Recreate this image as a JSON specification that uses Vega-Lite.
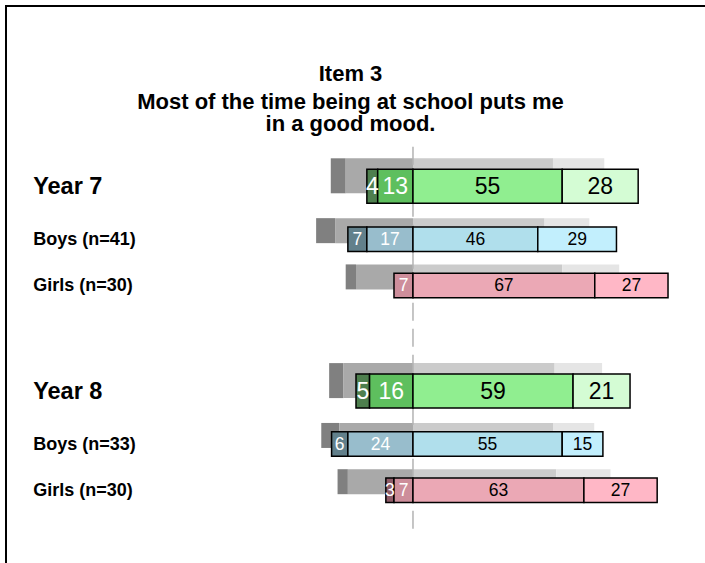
{
  "$schema": "https://vega.github.io/schema/vega-lite/v6.json",
  "width": 719,
  "height": 572,
  "autosize": {"type": "none"},
  "padding": {"left": 6, "top": 6, "right": 0, "bottom": 0},
  "background": "white",
  "config": {"view": {"stroke": "black", "strokeWidth": 2}, "font": "Liberation Sans"},
  "title": {
    "text": "Item 3",
    "subtitle": ["Most of the time being at school puts me", "in a good mood."],
    "anchor": "middle", "frame": "group", "offset": -130, "dx": -15,
    "font": "Liberation Sans", "fontSize": 22, "fontWeight": "bold", "color": "black",
    "subtitleFont": "Liberation Sans", "subtitleFontSize": 22, "subtitleFontWeight": "bold", "subtitleColor": "black",
    "subtitlePadding": 6, "subtitleLineHeight": 22
  },
  "datasets": {
    "main": [
      {"row": "Y7", "grp": "Y", "cat": "SD", "v": -4, "pct": 4},
      {"row": "Y7", "grp": "Y", "cat": "D", "v": -13, "pct": 13},
      {"row": "Y7", "grp": "Y", "cat": "A", "v": 55, "pct": 55},
      {"row": "Y7", "grp": "Y", "cat": "SA", "v": 28, "pct": 28},
      {"row": "B7", "grp": "B", "cat": "SD", "v": -7, "pct": 7},
      {"row": "B7", "grp": "B", "cat": "D", "v": -17, "pct": 17},
      {"row": "B7", "grp": "B", "cat": "A", "v": 46, "pct": 46},
      {"row": "B7", "grp": "B", "cat": "SA", "v": 29, "pct": 29},
      {"row": "G7", "grp": "G", "cat": "D", "v": -7, "pct": 7},
      {"row": "G7", "grp": "G", "cat": "A", "v": 67, "pct": 67},
      {"row": "G7", "grp": "G", "cat": "SA", "v": 27, "pct": 27},
      {"row": "Y8", "grp": "Y", "cat": "SD", "v": -5, "pct": 5},
      {"row": "Y8", "grp": "Y", "cat": "D", "v": -16, "pct": 16},
      {"row": "Y8", "grp": "Y", "cat": "A", "v": 59, "pct": 59},
      {"row": "Y8", "grp": "Y", "cat": "SA", "v": 21, "pct": 21},
      {"row": "B8", "grp": "B", "cat": "SD", "v": -6, "pct": 6},
      {"row": "B8", "grp": "B", "cat": "D", "v": -24, "pct": 24},
      {"row": "B8", "grp": "B", "cat": "A", "v": 55, "pct": 55},
      {"row": "B8", "grp": "B", "cat": "SA", "v": 15, "pct": 15},
      {"row": "G8", "grp": "G", "cat": "SD", "v": -3, "pct": 3},
      {"row": "G8", "grp": "G", "cat": "D", "v": -7, "pct": 7},
      {"row": "G8", "grp": "G", "cat": "A", "v": 63, "pct": 63},
      {"row": "G8", "grp": "G", "cat": "SA", "v": 27, "pct": 27}
    ],
    "shadow": [
      {"row": "Y7", "grp": "Y", "cat": "SD", "v": -5.5},
      {"row": "Y7", "grp": "Y", "cat": "D", "v": -24.8},
      {"row": "Y7", "grp": "Y", "cat": "A", "v": 51.6},
      {"row": "Y7", "grp": "Y", "cat": "SA", "v": 18.9},
      {"row": "B7", "grp": "B", "cat": "SD", "v": -7},
      {"row": "B7", "grp": "B", "cat": "D", "v": -28.7},
      {"row": "B7", "grp": "B", "cat": "A", "v": 48.5},
      {"row": "B7", "grp": "B", "cat": "SA", "v": 16.5},
      {"row": "G7", "grp": "G", "cat": "SD", "v": -3.8},
      {"row": "G7", "grp": "G", "cat": "D", "v": -21},
      {"row": "G7", "grp": "G", "cat": "A", "v": 55},
      {"row": "G7", "grp": "G", "cat": "SA", "v": 21},
      {"row": "Y8", "grp": "Y", "cat": "SD", "v": -5.3},
      {"row": "Y8", "grp": "Y", "cat": "D", "v": -25.6},
      {"row": "Y8", "grp": "Y", "cat": "A", "v": 52.2},
      {"row": "Y8", "grp": "Y", "cat": "SA", "v": 17.5},
      {"row": "B8", "grp": "B", "cat": "SD", "v": -6.7},
      {"row": "B8", "grp": "B", "cat": "D", "v": -27.1},
      {"row": "B8", "grp": "B", "cat": "A", "v": 51.8},
      {"row": "B8", "grp": "B", "cat": "SA", "v": 15},
      {"row": "G8", "grp": "G", "cat": "SD", "v": -3.8},
      {"row": "G8", "grp": "G", "cat": "D", "v": -24},
      {"row": "G8", "grp": "G", "cat": "A", "v": 52.8},
      {"row": "G8", "grp": "G", "cat": "SA", "v": 20}
    ],
    "labels": [
      {"row": "Y7", "grp": "Y", "label": "Year 7"},
      {"row": "B7", "grp": "B", "label": "Boys (n=41)"},
      {"row": "G7", "grp": "G", "label": "Girls (n=30)"},
      {"row": "Y8", "grp": "Y", "label": "Year 8"},
      {"row": "B8", "grp": "B", "label": "Boys (n=33)"},
      {"row": "G8", "grp": "G", "label": "Girls (n=30)"}
    ]
  },
  "layer": [
    {
      "data": {"name": "shadow"},
      "transform": [
        {"filter": "datum.grp == 'Y'"},
        {"stack": "v", "groupby": ["row"], "sort": [{"field": "cat", "order": "ascending"}], "as": ["x0", "x1"], "offset": "zero"},
        {"calculate": "'S' + datum.cat", "as": "key"}
      ],
      "mark": {"type": "bar", "height": 35, "yOffset": -10.5},
      "encoding": {
        "y": {"field": "row", "type": "nominal", "axis": null, "scale": {"type": "band", "paddingInner": 0, "paddingOuter": 0.79, "domain": ["p1","p2","p3","p4","p5","p6","p7","p8","p9","p10","p11","p12","p13","p14","p15","p16","p17","p18","p19","p20","p21","p22","p23","p24","p25","p26","Y7","y1","y2","y3","y4","y5","y6","y7","B7","b1","b2","b3","b4","b5","b6","G7","g1","g2","g3","g4","g5","g6","g7","g8","g9","g10","g11","g12","g13","g14","g15","Y8","z1","z2","z3","z4","z5","z6","z7","B8","c1","c2","c3","c4","c5","c6","G8","a1","a2","a3","a4","a5","a6","a7","a8","a9","a10","a11","a12"]}},
        "x": {"field": "x0", "type": "quantitative", "axis": null, "scale": {"domain": [-150, 115], "nice": false, "zero": false}},
        "x2": {"field": "x1"},
        "color": {"field": "key", "type": "nominal", "legend": null, "scale": {"domain": ["SSD", "SD", "SA", "SSA", "YSD", "YD", "YA", "YSA", "BSD", "BD", "BA", "BSA", "GSD", "GD", "GA", "GSA"], "range": ["#808080", "#a9a9a9", "#cbcbcb", "#e5e5e5", "#4e7f4e", "#5ebf5e", "#90ee90", "#d4fcd4", "#62808b", "#98bdcc", "#b0dfec", "#c2effd", "#8e5b67", "#cd8e9b", "#eba8b5", "#ffb7c6"]}}
      }
    },
    {
      "data": {"name": "shadow"},
      "transform": [
        {"filter": "datum.grp != 'Y'"},
        {"stack": "v", "groupby": ["row"], "sort": [{"field": "cat", "order": "ascending"}], "as": ["x0", "x1"], "offset": "zero"},
        {"calculate": "'S' + datum.cat", "as": "key"}
      ],
      "mark": {"type": "bar", "height": 25, "yOffset": -8.5},
      "encoding": {
        "y": {"field": "row", "type": "nominal"},
        "x": {"field": "x0", "type": "quantitative"},
        "x2": {"field": "x1"},
        "color": {"field": "key", "type": "nominal"}
      }
    },
    {
      "data": {"values": [{"z": 0}]},
      "mark": {"type": "rule", "color": "#b3b3b3", "strokeWidth": 1.5, "strokeDash": [18, 8]},
      "encoding": {
        "x": {"field": "z", "type": "quantitative"},
        "y": {"datum": "p21", "type": "nominal"},
        "y2": {"datum": "a7"}
      }
    },
    {
      "data": {"name": "main"},
      "transform": [
        {"filter": "datum.grp == 'Y'"},
        {"stack": "v", "groupby": ["row"], "sort": [{"field": "cat", "order": "ascending"}], "as": ["x0", "x1"], "offset": "zero"},
        {"calculate": "datum.grp + datum.cat", "as": "key"}
      ],
      "mark": {"type": "bar", "height": 34, "stroke": "black", "strokeWidth": 1.5},
      "encoding": {
        "y": {"field": "row", "type": "nominal"},
        "x": {"field": "x0", "type": "quantitative"},
        "x2": {"field": "x1"},
        "color": {"field": "key", "type": "nominal"}
      }
    },
    {
      "data": {"name": "main"},
      "transform": [
        {"filter": "datum.grp != 'Y'"},
        {"stack": "v", "groupby": ["row"], "sort": [{"field": "cat", "order": "ascending"}], "as": ["x0", "x1"], "offset": "zero"},
        {"calculate": "datum.grp + datum.cat", "as": "key"}
      ],
      "mark": {"type": "bar", "height": 24.5, "stroke": "black", "strokeWidth": 1.5},
      "encoding": {
        "y": {"field": "row", "type": "nominal"},
        "x": {"field": "x0", "type": "quantitative"},
        "x2": {"field": "x1"},
        "color": {"field": "key", "type": "nominal"}
      }
    },
    {
      "data": {"name": "main"},
      "transform": [
        {"filter": "datum.grp == 'Y'"},
        {"stack": "v", "groupby": ["row"], "sort": [{"field": "cat", "order": "ascending"}], "as": ["x0", "x1"], "offset": "zero"},
        {"calculate": "(datum.x0 + datum.x1) / 2", "as": "mid"}
      ],
      "mark": {"type": "text", "fontSize": 23, "align": "center", "baseline": "middle", "dy": 1},
      "encoding": {
        "y": {"field": "row", "type": "nominal"},
        "x": {"field": "mid", "type": "quantitative"},
        "text": {"field": "pct", "type": "quantitative"},
        "fill": {"condition": {"test": "datum.v < 0", "value": "white"}, "value": "black"}
      }
    },
    {
      "data": {"name": "main"},
      "transform": [
        {"filter": "datum.grp != 'Y'"},
        {"stack": "v", "groupby": ["row"], "sort": [{"field": "cat", "order": "ascending"}], "as": ["x0", "x1"], "offset": "zero"},
        {"calculate": "(datum.x0 + datum.x1) / 2", "as": "mid"}
      ],
      "mark": {"type": "text", "fontSize": 17.5, "align": "center", "baseline": "middle", "dy": 1},
      "encoding": {
        "y": {"field": "row", "type": "nominal"},
        "x": {"field": "mid", "type": "quantitative"},
        "text": {"field": "pct", "type": "quantitative"},
        "fill": {"condition": {"test": "datum.v < 0", "value": "white"}, "value": "black"}
      }
    },
    {
      "data": {"name": "labels"},
      "transform": [{"filter": "datum.grp == 'Y'"}],
      "mark": {"type": "text", "fontSize": 23.5, "fontWeight": "bold", "align": "left", "baseline": "middle", "color": "black", "dy": 1},
      "encoding": {
        "y": {"field": "row", "type": "nominal"},
        "x": {"datum": -140, "type": "quantitative"},
        "text": {"field": "label", "type": "nominal"}
      }
    },
    {
      "data": {"name": "labels"},
      "transform": [{"filter": "datum.grp != 'Y'"}],
      "mark": {"type": "text", "fontSize": 18, "fontWeight": "bold", "align": "left", "baseline": "middle", "color": "black", "dy": 1},
      "encoding": {
        "y": {"field": "row", "type": "nominal"},
        "x": {"datum": -140, "type": "quantitative"},
        "text": {"field": "label", "type": "nominal"}
      }
    }
  ]
}
